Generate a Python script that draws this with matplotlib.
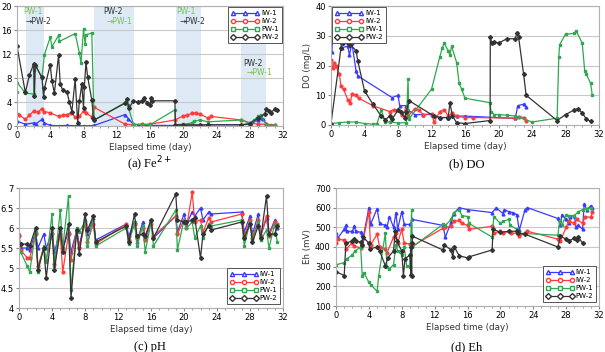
import matplotlib
matplotlib.use("Agg")
import matplotlib.pyplot as plt
from matplotlib.lines import Line2D

plt.rcParams['font.family'] = ['DejaVu Sans']

series_names = ["IW-1", "IW-2", "PW-1", "PW-2"]

# ---------------- (a) Fe2+ ----------------
fe_iw1_x = [0, 1, 2, 2.3, 3, 3.3, 4, 5, 6, 7, 8, 9, 9.3, 13, 13.4, 14, 14.5, 15, 16, 19, 20, 21, 22, 23, 27, 28, 29, 29.3, 29.6, 30, 30.5, 31]
fe_iw1_y = [0.8, 0.3, 0.5, 0.4, 1.1, 0.5, 0.1, 0.05, 0.1, 0.05, 0.05, 0.05, 0.1, 1.9, 1.2, 0.3, 0.2, 0.1, 0.1, 0.1, 0.1, 0.1, 0.1, 0.2, 0.2, 0.3, 1.0, 1.3, 1.2, 0.3, 0.1, 0.1]
fe_iw2_x = [0, 0.3, 1, 1.5, 2, 2.5, 3, 3.3, 4, 5, 5.5, 6, 6.5, 7, 7.5, 8, 8.3, 9, 9.3, 13, 14, 15, 16, 19, 20, 20.5, 21, 21.5, 22, 23, 23.3, 27, 28, 29, 30, 31]
fe_iw2_y = [2.0, 1.8, 1.1, 1.8, 2.5, 2.3, 2.9, 2.4, 2.2, 1.6, 1.8, 1.9, 2.2, 1.5, 1.6, 2.5, 2.2, 1.5, 3.1, 0.3, 0.2, 0.3, 0.3, 1.0, 1.7, 1.8, 2.1, 2.2, 2.0, 1.3, 1.6, 1.0, 0.5, 0.3, 0.3, 0.2]
fe_pw1_x = [0, 0.05, 1, 2, 2.1, 2.3, 3, 3.3, 4, 4.2, 5, 5.1, 7, 7.5, 7.7, 8, 8.2, 8.3, 9, 9.2, 9.3, 13, 13.3, 14, 16, 19, 19.05, 20, 21, 21.3, 22, 23, 27, 28, 28.5, 29, 29.3, 30, 31]
fe_pw1_y = [5.6, 7.2, 5.5, 5.3, 9.4, 10.0, 8.0, 11.9, 14.8, 13.2, 15.1, 14.1, 15.4, 12.2, 10.5, 16.1, 13.7, 15.2, 15.5, 4.4, 1.0, 3.9, 3.5, 0.3, 0.2, 2.7, 0.2, 0.3, 0.5, 0.8, 1.0, 0.7, 1.0, 0.5, 1.0, 1.6, 1.8, 0.2, 0.1]
fe_pw2_x = [0, 1, 1.5, 2, 2.1, 2.2, 3, 3.2, 3.3, 4, 4.2, 4.5, 5, 5.2, 5.5, 6, 6.3, 6.6, 7, 7.3, 7.5, 7.8, 8, 8.1, 8.3, 8.5, 9, 9.2, 9.3, 13, 13.2, 13.5, 14, 14.5, 15, 15.3, 15.6, 16, 16.1, 16.2, 19, 19.05, 20, 22, 23, 27, 28, 29, 29.8, 30, 30.3, 30.5, 31, 31.3]
fe_pw2_y = [13.3, 5.6, 8.5, 10.3, 5.0, 10.1, 8.1, 4.8, 6.3, 10.2, 7.5, 5.5, 11.8, 7.0, 6.0, 5.7, 4.0, 2.4, 7.8, 0.5, 4.1, 7.0, 3.0, 6.5, 10.6, 8.2, 4.3, 1.3, 1.0, 3.8, 4.5, 3.0, 4.2, 4.0, 4.2, 4.7, 3.9, 3.5, 4.7, 4.2, 4.2, 0.2, 0.2, 0.2, 0.2, 0.2, 0.4, 1.3, 2.0, 2.8, 2.5, 2.2, 2.8, 2.7]
fe_bands = [(1.1, 3.3), (9.3, 14.1), (19.1, 22.1), (27.0, 29.9)]

# ---------------- (b) DO ----------------
do_iw1_x = [0, 0.1, 0.2, 0.5, 1, 1.3, 2, 2.2, 2.5, 3, 3.2, 7.3, 8, 8.2, 9, 9.2, 10, 11, 12, 13, 14, 15, 16, 22, 22.3, 23, 23.3]
do_iw1_y = [28, 24.5, 30, 29, 28.5, 26, 26.5, 23.5, 27.5, 18, 16.5, 9.2, 10, 6.5, 6.5, 5.0, 3.5, 3.5, 3.5, 2.5, 2.5, 3.0, 3.0, 2.2, 6.5, 7.0, 6.0]
do_iw2_x = [0, 0.2, 0.4, 0.6, 1, 1.2, 1.5, 2, 2.3, 2.5, 3, 3.3, 5, 7, 7.5, 8, 8.5, 9, 9.2, 10, 10.5, 11, 12, 12.3, 13, 13.5, 14, 14.5, 15, 16, 17, 22, 22.5, 23, 23.3]
do_iw2_y = [22, 19, 21, 20, 17, 13, 12, 8.5, 7.5, 10.3, 10, 9, 6.5, 4.5, 5.2, 5.0, 3.5, 5.5, 3.0, 5.5, 5.0, 3.5, 3.8, 1.0, 4.5, 5.2, 3.0, 4.0, 3.0, 2.5, 2.5, 2.3, 2.8, 2.5, 1.5]
do_pw1_x = [0, 1, 2, 3, 4, 5, 5.5, 6, 6.5, 7, 8, 9, 9.2, 9.3, 12, 13, 13.3, 13.5, 14, 14.2, 14.4, 15, 15.3, 15.6, 16, 19, 19.1, 19.5, 20, 21, 22, 22.3, 24, 27, 27.2, 27.3, 28, 29, 29.3, 30, 30.3, 30.5, 31, 31.2]
do_pw1_y = [0.5, 0.8, 1.0, 1.0, 0.5, 0.3, 0.5, 5, 1, 1.0, 0.7, 0.8, 15.5, 2.0, 12, 23, 26, 27.5, 25, 23.5, 26.5, 21, 14, 12, 9, 7.5, 4.5, 3.5, 3.5, 3.3, 3.0, 2.8, 1.0, 2.3, 23, 27, 30.5, 30.8, 31.5, 27.5, 18, 17, 14, 10]
do_pw2_x = [0, 1.2, 1.4, 2, 2.3, 3, 3.2, 4, 5, 6, 6.5, 7, 7.3, 8, 8.3, 8.8, 9, 9.3, 12.3, 13, 14, 14.2, 14.5, 15, 16, 19, 19.02, 19.2, 19.5, 20, 21, 22, 22.2, 22.4, 23, 23.3, 27, 28, 29, 29.5, 30, 30.5, 31]
do_pw2_y = [0.5, 26, 27.5, 27.5, 27, 25, 21.5, 11.5, 7, 3, 1.8, 3, 2, 5, 4.5, 2.5, 4.5, 8.2, 3.0, 2.5, 2.5, 7.5, 3.0, 0.8, 0.5, 1.5, 29.5, 27.5, 28, 27.5, 29, 29.0, 31, 29.5, 17, 10, 1.5, 3.5, 5, 5.5, 4, 2, 1.2]

# ---------------- (c) pH ----------------
ph_x = [0, 0.2, 1, 1.3, 2, 2.3, 3, 3.3, 4, 4.3, 5, 5.3, 6, 6.3, 7, 7.3, 8, 8.3, 9, 9.3, 13, 13.3, 14, 14.3, 15, 15.3, 16, 16.3, 19, 19.2, 20, 20.3, 21, 21.3, 22, 22.3, 23, 23.3, 27, 27.3, 28, 28.3, 29, 29.3, 30, 30.3, 31, 31.3]
ph_iw1_y = [5.85, 5.5, 5.5, 5.45, 5.9, 5.5, 5.85, 5.5, 5.9, 5.4, 5.95, 5.5, 5.9, 5.4, 5.95, 5.55, 6.2, 5.85, 6.25, 5.7, 6.1, 5.8, 6.15, 5.65, 6.15, 5.75, 6.2, 5.75, 6.3, 5.9, 6.35, 6.1, 6.4, 6.3, 6.5, 6.2, 6.4, 6.35, 6.4, 5.9, 6.3, 5.85, 6.35, 5.8, 6.25, 5.85, 6.2, 6.0]
ph_iw2_y = [5.8, 5.45, 5.25, 5.25, 5.85, 5.05, 5.5, 5.2, 5.85, 5.1, 5.85, 4.9, 5.85, 5.2, 5.95, 5.5, 6.1, 5.65, 6.1, 5.6, 6.1, 5.7, 6.1, 5.75, 6.0, 5.7, 6.1, 5.8, 6.3, 5.85, 6.2, 6.0, 6.9, 6.15, 6.2, 5.9, 6.25, 6.15, 6.35, 5.8, 6.2, 5.75, 6.2, 5.8, 6.3, 5.8, 6.15, 6.1]
ph_pw1_y = [5.55, 5.4, 5.05, 4.9, 5.9, 4.9, 5.55, 5.15, 6.35, 5.05, 6.45, 5.5, 6.8, 4.45, 6.0, 5.9, 6.15, 5.55, 6.3, 5.55, 6.0, 5.6, 6.15, 5.55, 6.05, 5.4, 6.15, 5.55, 6.45, 5.45, 6.2, 6.0, 6.15, 5.75, 6.05, 5.75, 6.1, 6.05, 6.2, 5.55, 6.15, 5.7, 6.15, 5.7, 5.95, 5.5, 6.1, 5.65]
ph_pw2_y = [5.6, 5.6, 5.6, 5.55, 6.0, 4.95, 5.5, 4.75, 6.0, 4.95, 6.0, 5.4, 6.1, 4.25, 5.95, 5.35, 6.35, 5.95, 6.3, 5.65, 6.05, 5.65, 6.35, 5.8, 5.85, 5.8, 6.2, 5.75, 6.85, 6.2, 6.15, 6.15, 6.2, 6.25, 5.25, 5.85, 6.05, 5.95, 6.15, 5.75, 6.1, 5.65, 6.05, 5.75, 6.8, 5.85, 5.85, 6.05]

# ---------------- (d) Eh ----------------
eh_iw1_x = [0, 0.2, 1, 1.2, 1.3, 2, 2.2, 2.4, 3, 3.2, 3.3, 4, 4.2, 5, 5.3, 6, 6.2, 6.5, 7, 7.3, 7.5, 8, 8.3, 9, 9.3, 13, 13.3, 14, 14.3, 15, 16, 19, 19.5, 20.3, 20.5, 21, 21.5, 22, 22.3, 23, 23.3, 27, 27.3, 27.5, 28, 28.3, 28.5, 29, 29.2, 29.5, 30, 30.2, 30.5, 31, 31.2]
eh_iw1_y = [470, 445, 490, 510, 480, 480, 505, 480, 475, 460, 445, 600, 515, 595, 520, 510, 500, 555, 500, 575, 490, 580, 515, 515, 540, 510, 450, 525, 570, 600, 590, 575, 600, 570, 590, 580, 575, 565, 485, 590, 600, 545, 510, 565, 540, 520, 555, 560, 500, 510, 490, 620, 590, 610, 600]
eh_iw2_x = [0, 0.2, 1, 1.2, 2, 2.2, 3, 3.2, 4, 4.2, 5, 5.3, 6, 6.2, 7, 7.3, 7.5, 8, 8.3, 9, 9.3, 13, 13.3, 14, 14.3, 15, 15.3, 16, 16.2, 19, 19.2, 20, 20.3, 21, 21.3, 22, 22.3, 23, 23.3, 27, 27.3, 28, 28.3, 29, 29.3, 30, 30.3, 31, 31.2]
eh_iw2_y = [420, 440, 435, 390, 420, 405, 395, 410, 580, 410, 465, 400, 390, 370, 450, 470, 420, 490, 420, 415, 405, 495, 500, 505, 530, 535, 520, 510, 490, 505, 470, 480, 470, 480, 470, 470, 455, 470, 480, 440, 430, 500, 530, 520, 540, 520, 555, 550, 580]
eh_pw1_x = [0, 1, 1.3, 2, 2.3, 3, 3.2, 3.4, 4, 4.3, 5, 5.2, 6, 6.2, 6.5, 7, 7.3, 7.5, 8, 8.3, 8.6, 9, 9.2, 9.3, 13, 13.3, 14, 14.3, 15, 15.3, 16, 16.2, 19, 19.2, 20, 20.3, 21, 21.2, 22, 22.3, 27, 27.2, 27.5, 28, 28.3, 29, 29.5, 30, 30.5, 31]
eh_pw1_y = [310, 320, 340, 360, 380, 400, 250, 270, 220, 205, 175, 255, 470, 300, 290, 310, 410, 380, 360, 400, 305, 300, 590, 400, 515, 510, 540, 575, 590, 560, 555, 520, 450, 555, 520, 530, 540, 510, 490, 470, 460, 530, 510, 565, 560, 560, 580, 590, 595, 600]
eh_pw2_x = [0, 1, 1.2, 2, 2.2, 2.4, 3, 3.2, 3.3, 4, 4.1, 5, 5.3, 6, 6.3, 7, 7.2, 7.4, 8, 8.2, 8.4, 9, 9.1, 9.15, 9.2, 9.25, 9.3, 13, 13.2, 14, 14.2, 14.4, 15, 16, 16.2, 19, 19.1, 20, 21, 22, 22.2, 23, 27, 27.3, 28, 28.3, 29, 29.3, 29.5, 30]
eh_pw2_y = [275, 255, 420, 430, 440, 430, 425, 410, 450, 420, 390, 400, 380, 305, 345, 380, 480, 430, 380, 255, 340, 360, 260, 400, 255, 420, 455, 385, 410, 385, 350, 400, 355, 345, 350, 385, 490, 475, 480, 480, 470, 465, 400, 455, 440, 430, 445, 435, 450, 420]

colors = {"IW-1": "#3a3aff", "IW-2": "#ff3b3b", "PW-1": "#2fa84f", "PW-2": "#333333"}
markers = {"IW-1": "^", "IW-2": "o", "PW-1": "s", "PW-2": "D"}

W, H = 605, 352
fig = plt.figure(figsize=(W / 100, H / 100), dpi=100)


def make_ax(l, t, r, b):
    return fig.add_axes([l / W, 1 - b / H, (r - l) / W, (b - t) / H])


def style(ax, ylim, yticks, ylabel=None):
    ax.set_xlim(0, 32)
    ax.set_ylim(*ylim)
    ax.set_xticks(range(0, 33, 4))
    ax.set_xticks(range(0, 33, 1), minor=True)
    ax.set_yticks(yticks)
    ax.grid(axis='y', color='#c8c8c8', lw=0.8)
    ax.set_axisbelow(True)
    for s in ax.spines.values():
        s.set_color('#b0b0b0')
        s.set_linewidth(0.8)
    ax.tick_params(axis='both', labelsize=6.0, length=2.5, color='#888888', pad=1.2)
    ax.tick_params(axis='x', which='minor', length=1.5, color='#888888')
    ax.set_xlabel("Elapsed time (day)", fontsize=6.3, labelpad=2, color='#333333')
    if ylabel:
        ax.set_ylabel(ylabel, fontsize=6.3, labelpad=2, color='#333333')


def plot_series(ax, data):
    for name, (x, y) in zip(series_names, data):
        ax.plot(x, y, color=colors[name], marker=markers[name], ms=2, lw=0.9,
                mec=colors[name], mfc=colors[name])


def legend(ax, loc, bbox):
    handles = [Line2D([0], [0], color=colors[n], marker=markers[n], ms=3, lw=0.9,
                      mfc='white', mec=colors[n]) for n in series_names]
    lg = ax.legend(handles, series_names, loc=loc, bbox_to_anchor=bbox, fontsize=5,
                   frameon=True, fancybox=False, edgecolor='#555555', framealpha=1,
                   handlelength=4.0, handletextpad=0.3, labelspacing=0.3,
                   borderpad=0.4, borderaxespad=0.2, numpoints=3)
    lg.get_frame().set_linewidth(0.7)


# (a)
axa = make_ax(17, 6, 283, 126)
for a, b in fe_bands:
    axa.axvspan(a, b, color='#dde9f5', lw=0, zorder=0)
plot_series(axa, [(fe_iw1_x, fe_iw1_y), (fe_iw2_x, fe_iw2_y), (fe_pw1_x, fe_pw1_y), (fe_pw2_x, fe_pw2_y)])
style(axa, (0, 20), range(0, 21, 4))
legend(axa, 'upper right', (1.0, 1.0))
green_t = '#7cc24a'
fs = 5.5
axa.text(0.7, 19.0, "PW-1", color=green_t, fontsize=fs, va='center')
axa.text(1.0, 17.5, "→PW-2", color='#333333', fontsize=fs, va='center')
axa.text(10.4, 19.0, "PW-2", color='#333333', fontsize=fs, va='center')
axa.text(10.8, 17.5, "→PW-1", color=green_t, fontsize=fs, va='center')
axa.text(19.2, 19.0, "PW-1", color=green_t, fontsize=fs, va='center')
axa.text(19.6, 17.5, "→PW-2", color='#333333', fontsize=fs, va='center')
axa.text(27.2, 10.4, "PW-2", color='#333333', fontsize=fs, va='center')
axa.text(27.6, 8.9, "→PW-1", color=green_t, fontsize=fs, va='center')

# (b)
axb = make_ax(331, 6, 599, 125)
plot_series(axb, [(do_iw1_x, do_iw1_y), (do_iw2_x, do_iw2_y), (do_pw1_x, do_pw1_y), (do_pw2_x, do_pw2_y)])
style(axb, (0, 40), range(0, 41, 10), "DO (mg/L)")
legend(axb, 'upper left', (0.0, 1.0))

# (c)
axc = make_ax(19, 188, 283, 308)
plot_series(axc, [(ph_x, ph_iw1_y), (ph_x, ph_iw2_y), (ph_x, ph_pw1_y), (ph_x, ph_pw2_y)])
style(axc, (4, 7), [4, 4.5, 5, 5.5, 6, 6.5, 7])
axc.set_yticklabels(["4", "4.5", "5", "5.5", "6", "6.5", "7"])
legend(axc, 'lower right', (0.995, 0.02))

# (d)
axd = make_ax(336, 188, 599, 306)
plot_series(axd, [(eh_iw1_x, eh_iw1_y), (eh_iw2_x, eh_iw2_y), (eh_pw1_x, eh_pw1_y), (eh_pw2_x, eh_pw2_y)])
style(axd, (100, 700), range(100, 701, 100), "Eh (mV)")
legend(axd, 'lower right', (0.995, 0.02))

cap_font = dict(family=['Liberation Serif', 'DejaVu Serif'], fontsize=9, ha='center', va='center')
fig.text(150 / W, 1 - 164 / H, "(a) Fe$^{2+}$", **cap_font)
fig.text(467 / W, 1 - 164 / H, "(b) DO", **cap_font)
fig.text(150 / W, 1 - 347 / H, "(c) pH", **cap_font)
fig.text(467 / W, 1 - 347 / H, "(d) Eh", **cap_font)

fig.savefig("out.png", dpi=100)
